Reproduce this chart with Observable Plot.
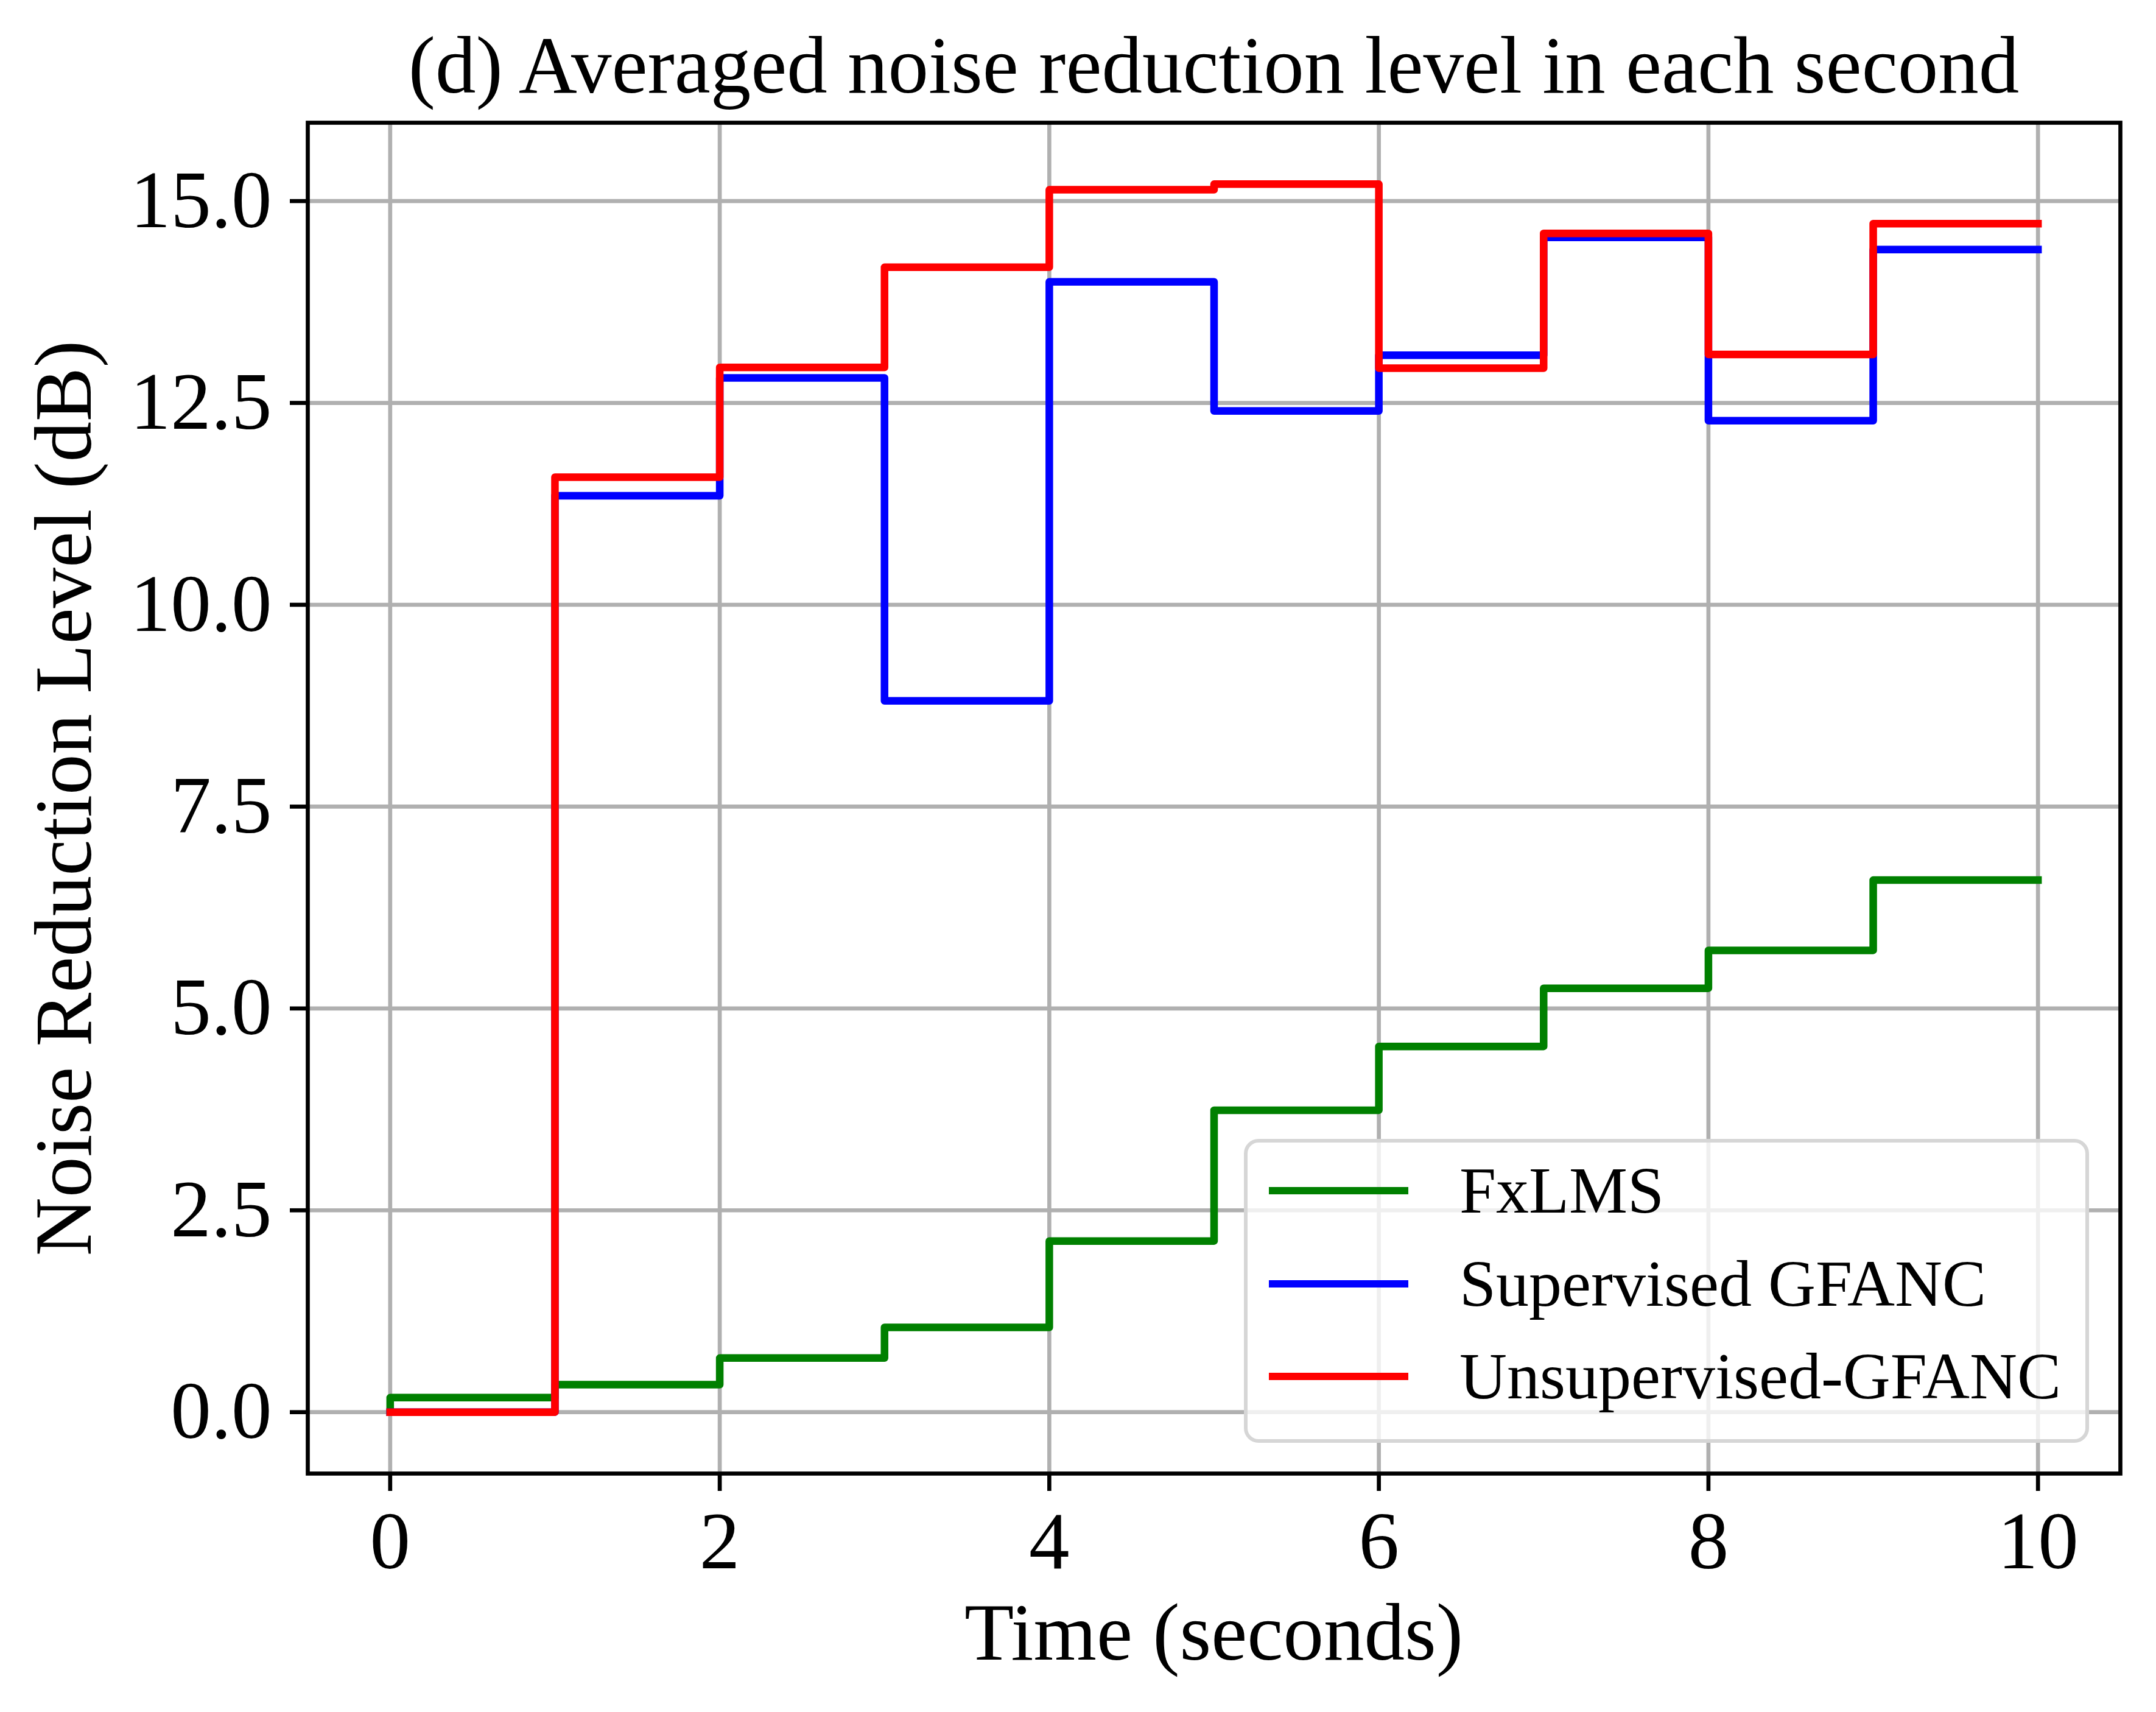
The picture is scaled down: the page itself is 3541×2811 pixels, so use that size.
<!DOCTYPE html>
<html>
<head>
<meta charset="utf-8">
<script src="https://cdn.jsdelivr.net/npm/d3@7"></script>
<script src="https://cdn.jsdelivr.net/npm/@observablehq/plot@0.6"></script>
<style>
  html, body { margin: 0; padding: 0; background: #ffffff; }
  #wrap { position: relative; width: 3541px; height: 2811px; font-family: "Liberation Serif", "Times New Roman", serif; color: #000; }
  #chart { position: absolute; left: 0; top: 0; }
  .txt { position: absolute; white-space: nowrap; }
  #title { left: 505px; width: 2977px; top: 41px; height: 133px; font-size: 133px; line-height: 133px; text-align: center; }
  #xlabel { left: 505px; width: 2977px; top: 2614px; height: 133px; font-size: 133px; line-height: 133px; text-align: center; }
  #ylabel { left: -1005px; width: 2218px; top: 1244px; height: 133px; font-size: 133px; line-height: 133px; text-align: center; transform: rotate(-90deg); transform-origin: 50% 50%; }
  #legend { position: absolute; left: 2043px; top: 1870px; width: 1388px; height: 499px; box-sizing: border-box;
            border: 6.67px solid #d6d6d6; border-radius: 24px; background: rgba(255,255,255,0.8); }
  .sw { position: absolute; left: 2084px; width: 229px; height: 12.5px; }
  .lt { position: absolute; left: 2397px; font-size: 108px; line-height: 108px; white-space: nowrap; }
</style>
</head>
<body>
<div id="wrap">
  <div id="chart"></div>
  <div id="title" class="txt"></div>
  <div id="xlabel" class="txt"></div>
  <div id="ylabel" class="txt"></div>
  <div id="legend"></div>
</div>
<script>
// ---- data ----
const seconds = [0, 1, 2, 3, 4, 5, 6, 7, 8, 9, 10];
// value at t applies to interval (t-1, t]  (step-before); first point is the start at 0
const fxlms        = [0, 0.18, 0.34, 0.67, 1.05, 2.12, 3.74, 4.53, 5.25, 5.72, 6.59];
const supervised   = [0, 0, 11.35, 12.81, 8.81, 14.00, 12.40, 13.09, 14.55, 12.28, 14.40];
const unsupervised = [0, 0, 11.58, 12.94, 14.18, 15.14, 15.21, 12.93, 14.60, 13.10, 14.72];
const seriesNames  = ["FxLMS", "Supervised GFANC", "Unsupervised-GFANC"];
const seriesColors = ["#008000", "#0000ff", "#ff0000"];
const xTicks = [0, 2, 4, 6, 8, 10];
const yTicks = [0, 2.5, 5, 7.5, 10, 12.5, 15];
const titleText = "(d) Averaged noise reduction level in each second";
const xLabelText = "Time (seconds)";
const yLabelText = "Noise Reduction Level (dB)";

// ---- build ----
const seriesValues = [fxlms, supervised, unsupervised];
const tables = seriesValues.map((vals, i) => seconds.map((t, j) => ({t, v: vals[j], s: seriesNames[i]})));

const allVals = seriesValues.flat();
const yMin = d3.min(allVals), yMax = d3.max(allVals);
const yPad = 0.05 * (yMax - yMin);
const xMin = d3.min(seconds), xMax = d3.max(seconds);
const xPad = 0.05 * (xMax - xMin);

const lw = 12.5, thin = 6.67;

const chart = Plot.plot({
  width: 3541,
  height: 2811,
  marginLeft: 505,
  marginRight: 59,
  marginTop: 201,
  marginBottom: 392,
  style: { fontFamily: "Liberation Serif", fontSize: "133px", background: "white", color: "black", overflow: "visible" },
  x: { domain: [xMin - xPad, xMax + xPad] },
  y: { domain: [yMin - yPad, yMax + yPad] },
  marks: [
    Plot.gridX(xTicks, { stroke: "#b0b0b0", strokeOpacity: 1, strokeWidth: thin }),
    Plot.gridY(yTicks, { stroke: "#b0b0b0", strokeOpacity: 1, strokeWidth: thin }),
    ...tables.map((tb, i) => Plot.line(tb, {
      x: "t", y: "v", stroke: seriesColors[i], strokeWidth: lw,
      curve: "step-before", strokeLinejoin: "round", strokeLinecap: "square"
    })),
    Plot.frame({ stroke: "black", strokeWidth: thin }),
    Plot.axisX(xTicks, { tickSize: 29, tickPadding: 32, strokeWidth: thin, fontSize: 133, label: null, tickFormat: d => String(d) }),
    Plot.axisY(yTicks, { tickSize: 29, tickPadding: 30, strokeWidth: thin, fontSize: 133, label: null, tickFormat: d3.format(".1f") })
  ]
});
document.getElementById("chart").appendChild(chart);

document.getElementById("title").textContent = titleText;
document.getElementById("xlabel").textContent = xLabelText;
document.getElementById("ylabel").textContent = yLabelText;

// legend
const wrap = document.getElementById("wrap");
const rowLineY = [1955, 2108, 2260];
const rowBaseY = [1991, 2144, 2296];
seriesNames.forEach((name, i) => {
  const sw = document.createElement("div");
  sw.className = "sw";
  sw.style.top = (rowLineY[i] - lw / 2) + "px";
  sw.style.background = seriesColors[i];
  wrap.appendChild(sw);
  const lt = document.createElement("div");
  lt.className = "lt";
  lt.style.top = (rowBaseY[i] - 90.4) + "px";
  lt.textContent = name;
  wrap.appendChild(lt);
});
</script>
</body>
</html>
